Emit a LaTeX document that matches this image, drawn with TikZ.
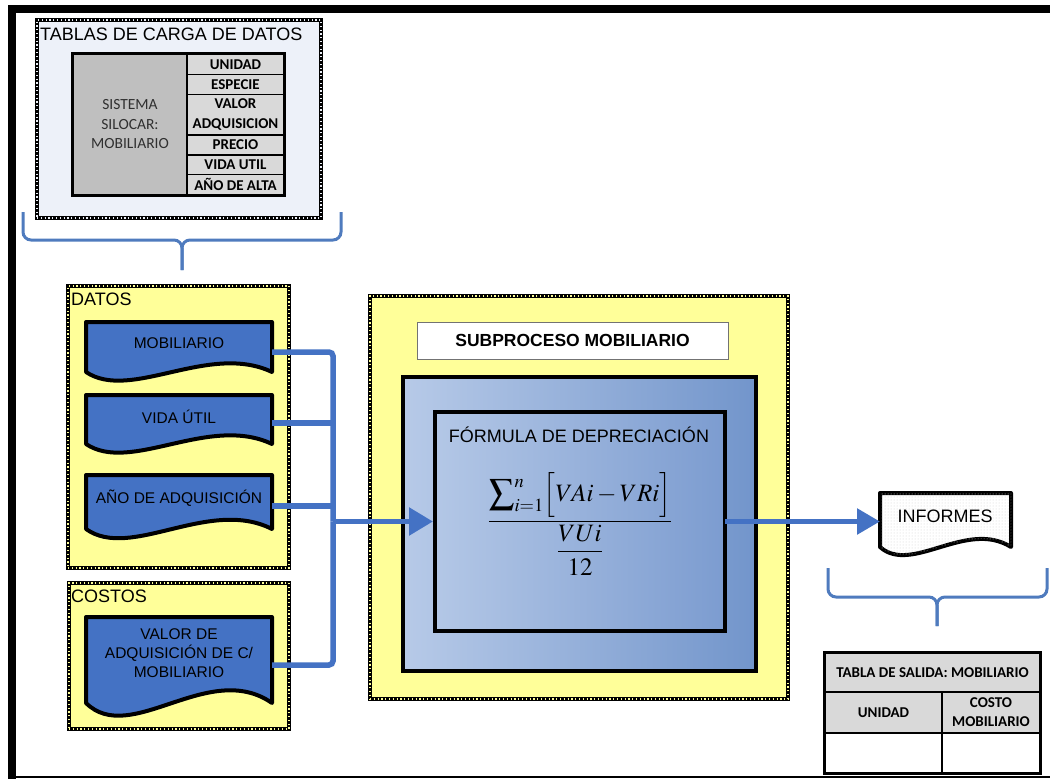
\documentclass[tikz,border=0pt]{standalone}
\usepackage{amsmath}
\usepackage{mathptmx}
\usepackage[no-math]{fontspec}
\setmainfont{Liberation Sans}
\newfontfamily\calib{Carlito}
\usetikzlibrary{arrows.meta,patterns,calc}
\definecolor{ylw}{HTML}{FFFF99}
\definecolor{pale}{HTML}{EDF1F9}
\definecolor{docblue}{HTML}{4472C4}
\definecolor{conblue}{HTML}{4472C4}
\definecolor{brblue}{HTML}{4F7BBE}
\definecolor{cellgray}{HTML}{D9D9D9}
\definecolor{darkcell}{HTML}{BFBFBF}
\definecolor{systxt}{HTML}{303030}
\definecolor{gradL}{HTML}{B7CAE8}
\definecolor{gradR}{HTML}{7295CB}
\definecolor{gradLi}{HTML}{B3C7E6}
\definecolor{gradRi}{HTML}{7C9CD0}
\newcommand\docshape[3]{\draw[#2] (#1.north west) -- (#1.north east) -- (#1.south east) .. controls ($(#1.south west)!0.66!(#1.south east)+(0,-#3)$) and ($(#1.south west)!0.24!(#1.south east)+(0,#3)$) .. (#1.south west) -- cycle;}
\tikzset{
  dotbox/.style={draw=black, line width=4, fill=#1, inner sep=0, outer sep=0,
    postaction={draw=#1, line width=1.2, dash pattern=on 1.2 off 2.6}},
  docgeom/.style={inner sep=0, outer sep=0},
  docline/.style={draw=black, line width=4, fill=docblue, line join=round},
  lbl/.style={font=\fontsize{18}{20}\selectfont, inner sep=0},
  doctext/.style={font=\fontsize{15.5}{19}\selectfont, align=center, inner sep=0},
  conn/.style={draw=conblue, line width=5.5},
  brace/.style={draw=brblue, line width=3, rounded corners=8},
  cellA/.style={draw=black, line width=1.5, fill=cellgray, minimum width=97, inner sep=0, align=center,
    font=\calib\bfseries\fontsize{15}{16}\selectfont},
  cellB/.style={draw=black, line width=1.5, fill=cellgray, inner sep=0, align=center,
    font=\calib\bfseries\fontsize{15}{19}\selectfont},
  gbox/.style={draw=black, line width=4, inner sep=0, outer sep=0},
}
\begin{document}
\begin{tikzpicture}[x=1pt,y=-1pt]
\useasboundingbox (0,0) rectangle (1050,779);
\fill[white] (0,0) rectangle (1050,779);
% outer frame
\fill[black] (8,5) rectangle (1050,13);
\fill[black] (8,5) rectangle (16,779);
\draw[line width=1.2] (8,777) -- (1050,777);

% top-left box
\node[dotbox=pale, minimum width=284, minimum height=198] (carga) at (179,119) {};
\node[lbl, anchor=west] (cargalbl) at (40,34) {TABLAS DE CARGA DE DATOS};
\node[draw=black, line width=1.5, fill=darkcell, minimum width=114, minimum height=141, inner sep=0,
  align=center, text=systxt, font=\calib\fontsize{15.5}{19.5}\selectfont] (sys) at (130,124.5) {SISTEMA\\SILOCAR:\\MOBILIARIO};
\node[cellA, minimum height=20.5] (c1) at (235.5,64.25) {UNIDAD};
\node[cellA, minimum height=20] (c2) at (235.5,84.5) {ESPECIE};
\node[cellA, minimum height=40.5, font=\calib\bfseries\fontsize{15}{20}\selectfont] (c3) at (235.5,114.75) {VALOR\\ADQUISICION};
\node[cellA, minimum height=20] (c4) at (235.5,145) {PRECIO};
\node[cellA, minimum height=19.5] (c5) at (235.5,164.75) {VIDA UTIL};
\node[cellA, minimum height=20.5] (c6) at (235.5,184.75) {AÑO DE ALTA};
\draw[line width=2] (sys.north west) rectangle (c6.south east);

% brace under top box
\coordinate (b1tip) at (182,270);
\draw[brace] (23,212) |- (182,240) -- (b1tip);
\draw[brace] (341,212) |- (182,240) -- (b1tip);

% DATOS box
\node[dotbox=ylw, minimum width=221, minimum height=282] (datos) at (178.5,427) {};
\node[lbl, anchor=west] (datoslbl) at (71,299.5) {DATOS};
\node[docgeom, minimum width=186, minimum height=50] (mob) at (179,347) {};
\docshape{mob}{docline}{30}
\node[doctext] (mobt) at (179,343) {MOBILIARIO};
\node[docgeom, minimum width=186, minimum height=49] (vida) at (179,419.5) {};
\docshape{vida}{docline}{30}
\node[doctext] (vidat) at (179,417) {VIDA ÚTIL};
\node[docgeom, minimum width=186, minimum height=54] (anio) at (179,502) {};
\docshape{anio}{docline}{32}
\node[doctext] (aniot) at (179,498) {AÑO DE ADQUISICIÓN};

% COSTOS box
\node[dotbox=ylw, minimum width=220, minimum height=146] (costos) at (179,656) {};
\node[lbl, anchor=west] (costoslbl) at (71,596) {COSTOS};
\node[docgeom, minimum width=186, minimum height=86] (valor) at (179,660) {};
\docshape{valor}{docline}{44}
\node[doctext] (valort) at (179,653) {VALOR DE\\ADQUISICIÓN DE C/\\MOBILIARIO};

% SUBPROCESO box
\node[dotbox=ylw, minimum width=418, minimum height=403] (sub) at (579,497.5) {};
\node[draw=black!55, line width=1, fill=white, minimum width=311, minimum height=37, inner sep=0,
  font=\bfseries\fontsize{17.5}{20}\selectfont] (subt) at (572.5,340.5) {SUBPROCESO MOBILIARIO};
\node[gbox, left color=gradL, right color=gradR, minimum width=353, minimum height=294] (outb) at (579.5,524) {};
\node[gbox, left color=gradLi, right color=gradRi, minimum width=290, minimum height=219] (fin) at (580,521.5) {};
\node[lbl] (fint) at (579,435) {FÓRMULA DE DEPRECIACIÓN};
\node[font=\fontsize{25}{30}\selectfont, inner sep=0] (formula) at (580,524)
  {$\displaystyle\frac{\displaystyle\sum\nolimits_{i=1}^{n}\!\Big[VAi-VRi\Big]}{\dfrac{VUi}{12}}$};

% connectors
\coordinate (bus) at (333,521.5);
\draw[conn, rounded corners=4] ($(mob.east)+(0,5)$) -| (bus);
\draw[conn] ($(vida.east)+(0,3.5)$) coordinate (v1) -- (v1 -| bus);
\draw[conn] ($(anio.east)+(0,4)$) coordinate (a1) -- (a1 -| bus);
\draw[conn, rounded corners=4] ($(valor.east)+(0,5)$) -| (bus);
\draw[conn, -{Triangle[length=24,width=27]}, shorten >=2] (bus) -- (bus -| fin.west);

% INFORMES
\node[docgeom, minimum width=131, minimum height=54] (inf) at (945.5,520) {};
\docshape{inf}{draw=black, line width=4, fill=white, line join=round, postaction={pattern=dots, pattern color=black!18}}{28}
\node[lbl] (inft) at (945,516) {INFORMES};
\draw[conn, -{Triangle[length=23,width=25]}] (fin.east) -- (fin.east -| inf.west);

% brace under INFORMES
\coordinate (b2tip) at (937,626);
\draw[brace] (828,568) |- (937,597) -- (b2tip);
\draw[brace] (1047,568) |- (937,597) -- (b2tip);

% output table
\node[cellB, minimum width=215, minimum height=39] (t1) at (932.5,672.5) {TABLA DE SALIDA: MOBILIARIO};
\node[cellB, minimum width=117, minimum height=41] (t2) at (883.5,712.5) {UNIDAD};
\node[cellB, minimum width=98, minimum height=41] (t3) at (991,712.5) {COSTO\\MOBILIARIO};
\node[cellB, fill=white, minimum width=117, minimum height=40] (t4) at (883.5,753) {};
\node[cellB, fill=white, minimum width=98, minimum height=40] (t5) at (991,753) {};
\draw[line width=2] (t1.north west) rectangle (t5.south east);
\end{tikzpicture}
\end{document}
